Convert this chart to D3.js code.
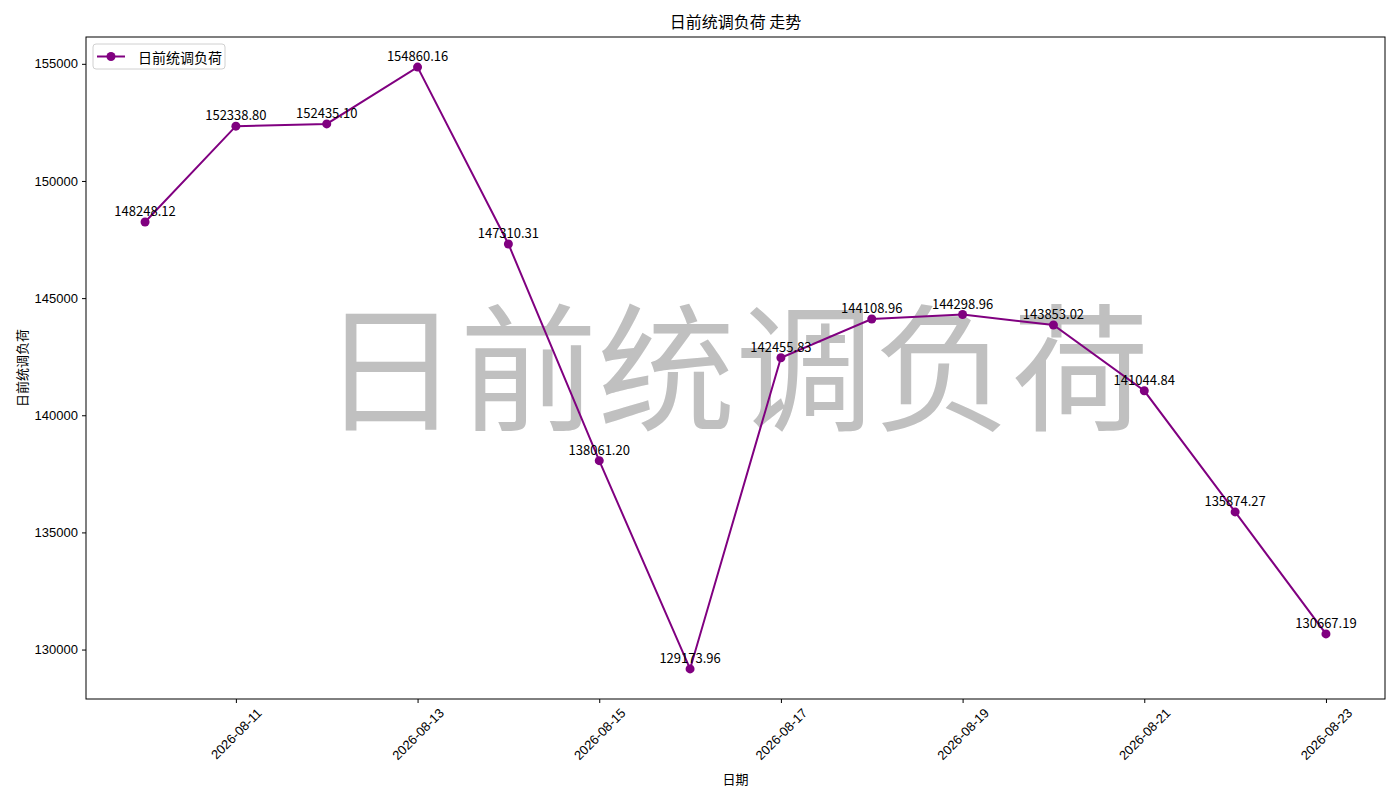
<!DOCTYPE html>
<html>
<head>
<meta charset="utf-8">
<script src="https://cdn.jsdelivr.net/npm/d3@7"></script>
<style>
  body { margin: 0; background: #fff; }
  svg { font-family: "Noto Sans CJK SC", "DejaVu Sans", sans-serif; }
</style>
</head>
<body>
<svg id="chart" width="1400" height="800"></svg>
<script>
const dates = [
  "2026-08-10", "2026-08-11", "2026-08-12", "2026-08-13", "2026-08-14",
  "2026-08-15", "2026-08-16", "2026-08-17", "2026-08-18", "2026-08-19",
  "2026-08-20", "2026-08-21", "2026-08-22", "2026-08-23",
];
const loads = [
  148248.12, 152338.8, 152435.1, 154860.16, 147310.31,
  138061.2, 129173.96, 142455.83, 144108.96, 144298.96,
  143853.02, 141044.84, 135874.27, 130667.19,
];
const xTickDates = ["2026-08-11", "2026-08-13", "2026-08-15", "2026-08-17", "2026-08-19", "2026-08-21", "2026-08-23"];
const yTicks = [130000, 135000, 140000, 145000, 150000, 155000];
const seriesName = "日前统调负荷";

const parse = d3.timeParse("%Y-%m-%d");
const data = dates.map((d, i) => ({ date: parse(d), value: loads[i] }));

const margin = { left: 86, right: 15, top: 37, bottom: 101 };
const width = 1400 - margin.left - margin.right;
const height = 800 - margin.top - margin.bottom;
const color = "#800080";

const svg = d3.select("#chart");
const g = svg.append("g").attr("transform", `translate(${margin.left},${margin.top})`);

// matplotlib-like 5% margins
const xExt = d3.extent(data, (d) => d.date);
const xPad = (xExt[1] - xExt[0]) * 0.05;
const xScale = d3.scaleTime()
  .domain([new Date(+xExt[0] - xPad), new Date(+xExt[1] + xPad)])
  .range([0, width]);

const yExt = d3.extent(data, (d) => d.value);
const yPad = (yExt[1] - yExt[0]) * 0.05;
const yScale = d3.scaleLinear()
  .domain([yExt[0] - yPad, yExt[1] + yPad])
  .range([height, 0]);

// watermark
g.append("text")
  .attr("x", width / 2)
  .attr("y", height / 2 - 8)
  .attr("text-anchor", "middle")
  .attr("dominant-baseline", "central")
  .attr("font-size", 138)
  .attr("fill", "#c0c0c0")
  .text(seriesName);

// axes
const xAxis = g.append("g")
  .attr("transform", `translate(0,${height})`)
  .call(d3.axisBottom(xScale).tickValues(xTickDates.map(parse)).tickFormat(d3.timeFormat("%Y-%m-%d")).tickSize(4).tickPadding(3));
xAxis.select(".domain").remove();
xAxis.selectAll("text")
  .attr("font-size", 13)
  .attr("fill", "#000")
  .attr("dy", null)
  .attr("y", null)
  .attr("text-anchor", "middle")
  .attr("dominant-baseline", "central")
  .each(function () {
    const w = this.getComputedTextLength();
    const half = (w + 13) * Math.SQRT1_2 / 2;
    d3.select(this).attr("transform", `translate(0,${7 + half}) rotate(-45)`);
  });

const yAxis = g.append("g")
  .call(d3.axisLeft(yScale).tickValues(yTicks).tickFormat(d3.format("d")).tickSize(4).tickPadding(4));
yAxis.select(".domain").remove();
yAxis.selectAll("text").attr("font-size", 13).attr("fill", "#000");
g.selectAll(".tick line").attr("stroke", "#000");

g.append("rect")
  .attr("width", width)
  .attr("height", height)
  .attr("fill", "none")
  .attr("stroke", "#000")
  .attr("stroke-width", 1);

// line + markers
const line = d3.line().x((d) => xScale(d.date)).y((d) => yScale(d.value));
g.append("path")
  .datum(data)
  .attr("d", line)
  .attr("fill", "none")
  .attr("stroke", color)
  .attr("stroke-width", 2);

g.selectAll("circle.pt")
  .data(data)
  .join("circle")
  .attr("class", "pt")
  .attr("cx", (d) => xScale(d.date))
  .attr("cy", (d) => yScale(d.value))
  .attr("r", 4.5)
  .attr("fill", color);

g.selectAll("text.lbl")
  .data(data)
  .join("text")
  .attr("class", "lbl")
  .attr("x", (d) => xScale(d.date))
  .attr("y", (d) => yScale(d.value) - 6)
  .attr("text-anchor", "middle")
  .attr("font-size", 13)
  .attr("fill", "#000")
  .text((d) => d.value.toFixed(2));

// legend
const legend = g.append("g").attr("transform", "translate(7,7)");
legend.append("rect")
  .attr("width", 132)
  .attr("height", 25)
  .attr("rx", 3)
  .attr("fill", "#fff")
  .attr("fill-opacity", 0.8)
  .attr("stroke", "#d0d0d0");
legend.append("line")
  .attr("x1", 4).attr("x2", 32).attr("y1", 12.5).attr("y2", 12.5)
  .attr("stroke", color).attr("stroke-width", 2);
legend.append("circle").attr("cx", 18).attr("cy", 12.5).attr("r", 4.5).attr("fill", color);
legend.append("text")
  .attr("x", 45).attr("y", 12.5)
  .attr("dominant-baseline", "central")
  .attr("font-size", 14)
  .text(seriesName);

// titles
svg.append("text")
  .attr("x", margin.left + width / 2)
  .attr("y", 28)
  .attr("text-anchor", "middle")
  .attr("font-size", 16)
  .text(seriesName + " 走势");

svg.append("text")
  .attr("x", margin.left + width / 2)
  .attr("y", 784)
  .attr("text-anchor", "middle")
  .attr("font-size", 13)
  .text("日期");

svg.append("text")
  .attr("transform", `translate(27,${margin.top + height / 2}) rotate(-90)`)
  .attr("text-anchor", "middle")
  .attr("font-size", 13)
  .text(seriesName);
</script>
</body>
</html>
